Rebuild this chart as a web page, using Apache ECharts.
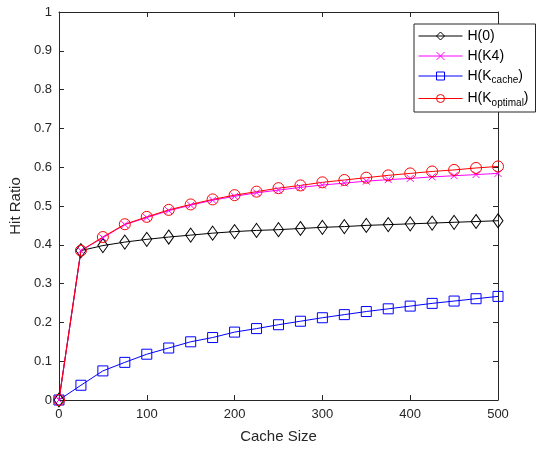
<!DOCTYPE html>
<html><head><meta charset="utf-8">
<script src="https://cdn.jsdelivr.net/npm/echarts@6/dist/echarts.min.js"></script>
<style>html,body{margin:0;padding:0;background:#fff}#c{width:559px;height:449px}</style>
</head><body><div id="c"></div>
<script>
const cacheSizes = [0,25,50,75,100,125,150,175,200,225,250,275,300,325,350,375,400,425,450,475,500];
const h0 = [0,0.385,0.398,0.407,0.414,0.420,0.425,0.430,0.434,0.437,0.439,0.442,0.445,0.447,0.450,0.452,0.454,0.456,0.458,0.460,0.462];
const hK4 = [0,0.385,0.418,0.452,0.470,0.488,0.502,0.515,0.525,0.534,0.541,0.548,0.554,0.559,0.564,0.568,0.571,0.575,0.578,0.581,0.584];
const hKcache = [0,0.038,0.075,0.097,0.118,0.134,0.150,0.161,0.175,0.184,0.194,0.203,0.212,0.220,0.228,0.235,0.242,0.249,0.255,0.261,0.267];
const hKopt = [0,0.385,0.420,0.453,0.472,0.490,0.504,0.517,0.528,0.537,0.546,0.553,0.561,0.567,0.573,0.579,0.584,0.589,0.593,0.598,0.602];
const seriesNames = ['H(0)','H(K4)','H(Kcache)','H(Koptimal)'];

const font = 'Liberation Sans, Arial, sans-serif';
const chart = echarts.init(document.getElementById('c'), null, {renderer:'canvas'});
const pair = arr => cacheSizes.map((x,i)=>[x,arr[i]]);
function mk(name, data, color, symbol, size){
  return {name, type:'line', data:pair(data), symbol, symbolSize:size,
    lineStyle:{color, width:1}, itemStyle:{color:'rgba(0,0,0,0)', borderColor:color, borderWidth:1},
    emphasis:{disabled:true}, animation:false, z: 2};
}
const axLine = {show:true, onZero:false, lineStyle:{color:'#262626', width:1}};
const tick = {show:true, inside:true, length:5, lineStyle:{color:'#262626'}};
chart.setOption({
  backgroundColor:'#fff',
  animation:false,
  grid:{left:56, right:61, top:12, bottom:49},
  legend:{
    orient:'vertical', left:414, top:24, itemWidth:44, itemHeight:10, itemGap:6,
    backgroundColor:'#fff', borderColor:'#262626', borderWidth:1, padding:[5,7,4,4],
    lineStyle:{width:1}, itemStyle:{borderWidth:1},
    textStyle:{fontFamily:font, fontSize:14, color:'#000',
      rich:{sub:{fontFamily:font, fontSize:10, verticalAlign:'bottom', padding:[9,0,0,0], color:'#000'}, n:{fontFamily:font,fontSize:14,color:'#000'}}},
    formatter: function(n){
      if(n==='H(Kcache)') return '{n|H(K}{sub|cache}{n|)}';
      if(n==='H(Koptimal)') return '{n|H(K}{sub|optimal}{n|)}';
      return n;
    },
    data: seriesNames
  },
  xAxis:[{type:'value', min:0, max:500, interval:100, position:'bottom',
    name:'Cache Size', nameLocation:'middle', nameGap:29,
    nameTextStyle:{fontFamily:font, fontSize:15, color:'#262626'},
    axisLine:axLine, axisTick:tick,
    axisLabel:{fontFamily:font, fontSize:13, color:'#262626', margin:8},
    splitLine:{show:false}},
   {type:'value', min:0, max:500, interval:100, position:'top',
    axisLine:axLine, axisTick:tick, axisLabel:{show:false}, splitLine:{show:false}}],
  yAxis:[{type:'value', min:0, max:1, interval:0.1, position:'left',
    name:'Hit Ratio', nameLocation:'middle', nameGap:31, nameRotate:90,
    nameTextStyle:{fontFamily:font, fontSize:15, color:'#262626'},
    axisLine:axLine, axisTick:tick,
    axisLabel:{fontFamily:font, fontSize:13, color:'#262626', margin:7,
      formatter: v => String(Math.round(v*10)/10)},
    splitLine:{show:false}},
   {type:'value', min:0, max:1, interval:0.1, position:'right',
    axisLine:axLine, axisTick:tick, axisLabel:{show:false}, splitLine:{show:false}}],
  series:[
    mk('H(0)', h0, '#000000', 'diamond', [10,14]),
    mk('H(K4)', hK4, '#ff00ff', 'path://M0,0L10,10M10,0L0,10', 7),
    mk('H(Kcache)', hKcache, '#0000ff', 'rect', 10),
    mk('H(Koptimal)', hKopt, '#ff0000', 'circle', 11)
  ]
});
</script></body></html>
